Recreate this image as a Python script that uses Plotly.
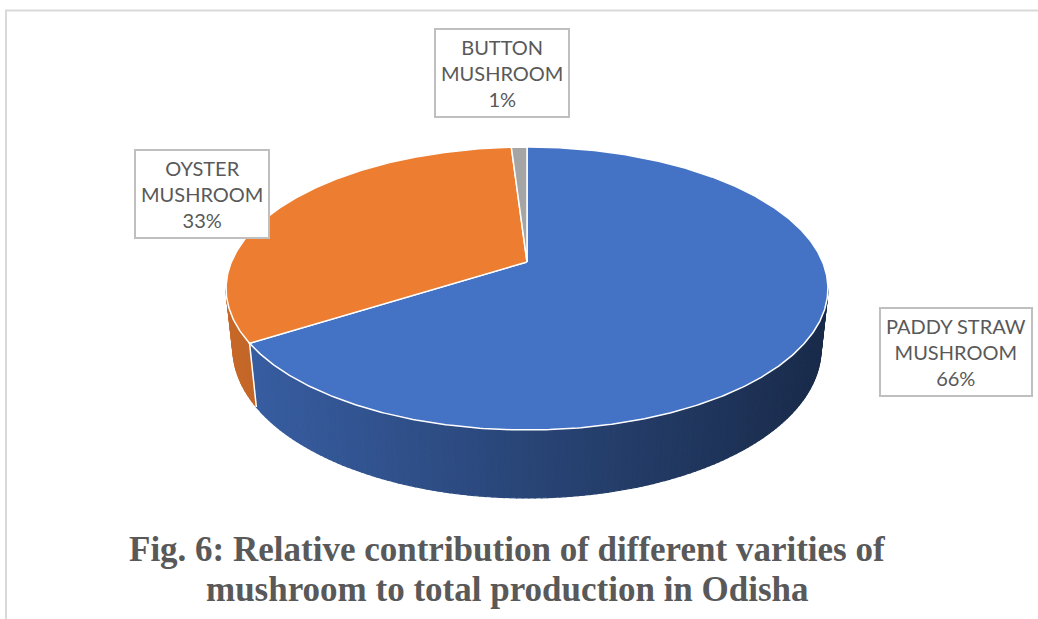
import numpy as np
import plotly.graph_objects as go

# ---------------- data ----------------
categories = ["PADDY STRAW<br>MUSHROOM", "OYSTER<br>MUSHROOM", "BUTTON<br>MUSHROOM"]
values = [66, 33, 1]
top_colors = ["#4472C4", "#ED7D31", "#A5A5A5"]
title_lines = ["Fig. 6: Relative contribution of different varities of",
               "mushroom to total production in Odisha"]

# ---------------- 3D pie geometry (perspective projection) ----------------
W, Hpx = 1038, 619
CX, CY = 527, 262          # projected pie centre (px)
PHI = np.radians(27.5)     # elevation of the camera
CP, SP = np.cos(PHI), np.sin(PHI)
DIST = 4.736               # camera distance (in pie radii)
FOC = 1400                 # focal length (px)
DEPTH = 0.231              # pie thickness (in pie radii)


def proj(theta_deg, z):
    t = np.radians(np.asarray(theta_deg, dtype=float))
    X, Y = np.sin(t), np.cos(t)
    d = Y * CP - z * SP + DIST
    x = CX + FOC * X / d
    yup = FOC * (Y * SP + z * CP) / d
    return x, CY - yup


def hex_to_rgb(h):
    h = h.lstrip("#")
    return np.array([int(h[i:i + 2], 16) for i in (0, 2, 4)], dtype=float)


def shade(hexcol, f):
    r, g, b = np.clip(hex_to_rgb(hexcol) * f, 0, 255).astype(int)
    return f"rgb({r},{g},{b})"


total = float(sum(values))
bounds = np.concatenate([[0.0], np.cumsum(values) / total * 360.0])

fig = go.Figure()

# visible (front) part of the side wall
th_r = np.degrees(np.arccos(-CP / DIST))
th_l = 360.0 - th_r
x_left, x_right = proj(th_l, 0)[0], proj(th_r, 0)[0]

for i in range(len(values)):
    a0, a1 = max(bounds[i], th_r), min(bounds[i + 1], th_l)
    if a1 <= a0:
        continue
    n = int(np.ceil((a1 - a0) / 1.0))
    edges = np.linspace(a0, a1, n + 1)
    for k in range(n):
        ts = np.linspace(edges[k], edges[k + 1], 4)
        xt, yt = proj(ts, 0)
        xb, yb = proj(ts[::-1], -DEPTH)
        xm = 0.5 * (xt[0] + xt[-1])
        frac = (xm - x_left) / (x_right - x_left)
        f = 0.84 - 0.46 * frac
        col = shade(top_colors[i], f)
        fig.add_trace(go.Scatter(
            x=np.concatenate([xt, xb, xt[:1]]), y=np.concatenate([yt, yb, yt[:1]]),
            mode="lines", fill="toself", fillcolor=col,
            line=dict(color=col, width=1.2), hoverinfo="skip", showlegend=False))

# white seams on the side wall at slice boundaries
for b in bounds[1:-1]:
    if th_r < b < th_l:
        xs0, ys0 = proj(b, 0)
        xs1, ys1 = proj(b, -DEPTH)
        fig.add_trace(go.Scatter(x=[xs0, xs1], y=[ys0, ys1], mode="lines",
                                 line=dict(color="white", width=1.5),
                                 hoverinfo="skip", showlegend=False))

# top faces
for i in range(len(values)):
    ts = np.linspace(bounds[i], bounds[i + 1], max(3, int((bounds[i + 1] - bounds[i]) * 2)))
    xa, ya = proj(ts, 0)
    fig.add_trace(go.Scatter(
        x=np.concatenate([[CX], xa, [CX]]), y=np.concatenate([[CY], ya, [CY]]),
        mode="lines", fill="toself", fillcolor=top_colors[i],
        line=dict(color="white", width=1.5), name=categories[i].replace("<br>", " "),
        hoverinfo="name", showlegend=False))

# data labels
label_pos = [(956, 352), (202, 194), (502, 73)]
pcts = [round(v / total * 100) for v in values]
for (lx, ly), cat, p in zip(label_pos, categories, pcts):
    fig.add_annotation(x=lx, y=ly, xref="x", yref="y", showarrow=False,
                       text=f"{cat}<br>{p}%", align="center",
                       font=dict(family="Lato", size=20, color="#595959"),
                       bgcolor="white", bordercolor="#BFBFBF", borderwidth=2,
                       borderpad=5)

# caption
for ty, line in zip([549, 589], title_lines):
    fig.add_annotation(x=507, y=ty, xref="x", yref="y", showarrow=False,
                       text=f"<b>{line}</b>", align="center",
                       font=dict(family="Liberation Serif", size=35, color="#595959"))

# frame lines
fig.add_shape(type="line", xref="x", yref="y", x0=5, x1=1038, y0=10.5, y1=10.5,
              line=dict(color="#D9D9D9", width=2))
fig.add_shape(type="line", xref="x", yref="y", x0=6, x1=6, y0=10, y1=619,
              line=dict(color="#D9D9D9", width=2))

fig.update_layout(
    width=W, height=Hpx, margin=dict(l=0, r=0, t=0, b=0),
    paper_bgcolor="white", plot_bgcolor="white",
    xaxis=dict(range=[0, W], visible=False, fixedrange=True),
    yaxis=dict(range=[Hpx, 0], visible=False, fixedrange=True),
)

fig.write_html("out.html", config={"displayModeBar": False},
               post_script="document.body.style.margin='0px';document.body.style.overflow='hidden';")
